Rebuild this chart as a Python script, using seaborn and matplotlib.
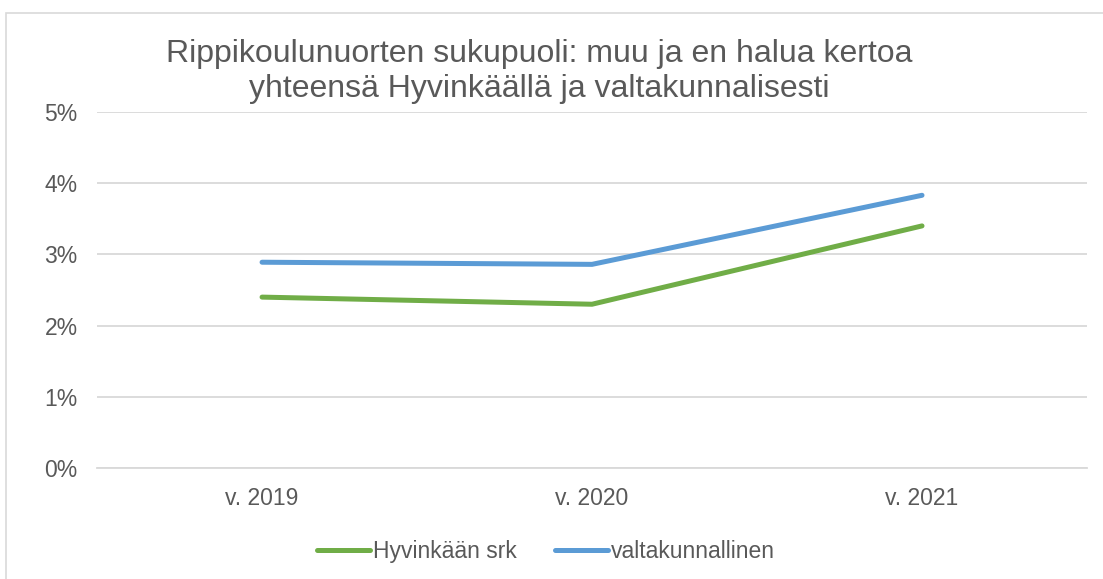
import matplotlib
matplotlib.use("Agg")
import matplotlib.pyplot as plt
import seaborn as sns
import pandas as pd
from matplotlib.patches import Rectangle
from matplotlib.ticker import FuncFormatter

years = ["v. 2019", "v. 2020", "v. 2021"]
hyvinkaa = [0.024, 0.023, 0.034]
valtakunnallinen = [0.0289, 0.0286, 0.0383]
series_names = ["Hyvinkään srk", "valtakunnallinen"]
colors = ["#70ad47", "#5b9bd5"]
title = "Rippikoulunuorten sukupuoli: muu ja en halua kertoa\nyhteensä Hyvinkäällä ja valtakunnalisesti"

df = pd.DataFrame({
    "year": years * 2,
    "value": hyvinkaa + valtakunnallinen,
    "series": [series_names[0]] * 3 + [series_names[1]] * 3,
})

sns.set_theme(style="white")
plt.rcParams["font.family"] = ["Liberation Sans", "DejaVu Sans"]

fig = plt.figure(figsize=(11.03, 5.79), dpi=100)
ax = fig.add_axes([0.088, 0.1917, 0.8975, 0.6149])

sns.lineplot(data=df, x="year", y="value", hue="series", palette=colors,
             linewidth=3.6, ax=ax, sort=False, solid_capstyle="round")

ax.set_xlim(-0.5, 2.5)
ax.set_ylim(0, 0.05)
ax.set_yticks([0, 0.01, 0.02, 0.03, 0.04, 0.05])
ax.yaxis.set_major_formatter(FuncFormatter(lambda v, p: f"{v*100:.0f}%"))
ax.grid(axis="y", color="#d9d9d9", linewidth=1.3)
ax.set_axisbelow(True)
for s in ["top", "right", "left"]:
    ax.spines[s].set_visible(False)
ax.spines["bottom"].set_color("#d9d9d9")
ax.spines["bottom"].set_linewidth(1.3)
ax.tick_params(axis="both", colors="#595959", labelsize=16.5, length=0)
ax.tick_params(axis="y", pad=14)
ax.tick_params(axis="x", pad=14)
ax.set_xlabel("")
ax.set_ylabel("")

fig.text(0.489, 0.8765, title, ha="center", va="center", fontsize=23,
         color="#595959", linespacing=1.2)

handles, labels = ax.get_legend_handles_labels()
ax.legend(handles, labels, loc="center", bbox_to_anchor=(0.495, 0.047),
          bbox_transform=fig.transFigure, ncol=2, frameon=False,
          fontsize=16.5, labelcolor="#595959", handlelength=2.3,
          handletextpad=0.12, columnspacing=1.7)

fig.patches.append(Rectangle((0.005, -0.01), 1.1, 0.988, transform=fig.transFigure,
                             fill=False, edgecolor="#d9d9d9", linewidth=1.2))

fig.savefig("out.png", dpi=100)
